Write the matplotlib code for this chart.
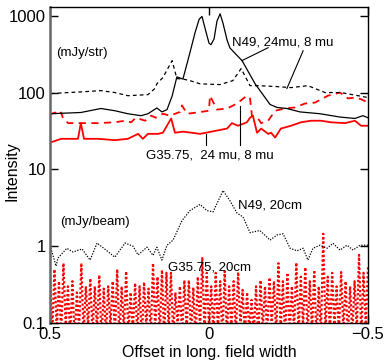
import numpy as np
import matplotlib
matplotlib.use("Agg")
import matplotlib.pyplot as plt

plt.rcParams['font.family'] = ['Liberation Sans', 'DejaVu Sans']

# N49, 24 mu (solid black)
n49_24_off = [0.500, 0.403, 0.340, 0.296, 0.255, 0.214, 0.192, 0.164, 0.148, 0.132, 0.116, 0.101,
              0.082, 0.060, 0.044, 0.031, 0.022, 0.013, 0.0, -0.006, -0.016, -0.025, -0.035,
              -0.044, -0.057, -0.066, -0.104, -0.145, -0.192, -0.214, -0.245, -0.286, -0.349,
              -0.412, -0.459, -0.484, -0.500]
n49_24_val = [53, 55, 62, 58, 53, 50, 53, 63, 56, 60, 90, 160,
              150, 330, 600, 900, 980, 700, 440, 420, 500, 850, 1060,
              800, 480, 380, 260, 130, 70, 64, 62, 56, 53,
              48, 46, 50, 47]

# N49, 8 mu (dashed black)
n49_8_off = [0.497, 0.443, 0.403, 0.340, 0.296, 0.255, 0.192, 0.170, 0.164, 0.145, 0.116, 0.101,
             0.082, 0.060, 0.028, -0.035, -0.075, -0.101, -0.113, -0.129, -0.154, -0.208,
             -0.258, -0.311, -0.365, -0.415, -0.469, -0.500]
n49_8_val = [97, 100, 102, 106, 100, 91, 94, 113, 130, 157, 260, 152,
             150, 143, 130, 127, 143, 205, 165, 123, 123, 120,
             116, 123, 100, 100, 91, 86]

# G35.75, 24 mu (solid red)
g35_24_off = [0.497, 0.465, 0.412, 0.403, 0.393, 0.349, 0.296, 0.255, 0.223, 0.208, 0.192,
              0.160, 0.145, 0.119, 0.107, 0.082, 0.028, -0.025, -0.057, -0.072, -0.091,
              -0.119, -0.129, -0.138, -0.151, -0.164, -0.186, -0.195, -0.208, -0.226,
              -0.258, -0.289, -0.321, -0.352, -0.384, -0.428, -0.459, -0.478, -0.500]
g35_24_val = [22.5, 25, 25, 40, 25, 25, 24, 25, 29, 25, 29,
              29, 30, 46, 30, 31, 29, 32, 34, 40, 37,
              41, 47, 50, 30, 34, 29, 30, 26, 34,
              37, 41, 43, 43, 41, 40, 43, 37, 37]

# G35.75, 8 mu (dashed red)
g35_8_off = [0.500, 0.484, 0.475, 0.465, 0.459, 0.443, 0.403, 0.349, 0.296, 0.264, 0.245,
             0.230, 0.201, 0.182, 0.167, 0.145, 0.123, 0.091, 0.085, 0.069, 0.038, 0.0,
             -0.003, -0.025, -0.057, -0.088, -0.119, -0.129, -0.135, -0.154, -0.164,
             -0.186, -0.208, -0.239, -0.270, -0.302, -0.333, -0.374, -0.412, -0.437,
             -0.459, -0.478, -0.500]
g35_8_val = [52, 55, 50, 55, 46, 40, 40, 40, 41, 43, 41,
             47, 43, 50, 47, 53, 50, 56, 68, 53, 55, 58,
             91, 60, 62, 72, 91, 84, 50, 46, 40,
             43, 58, 62, 64, 72, 74, 91, 100, 84,
             86, 82, 74]

# N49, 20 cm (dotted black)
n49_20_off = [0.500, 0.481, 0.475, 0.447, 0.428, 0.399, 0.374, 0.352, 0.321, 0.296, 0.264,
              0.239, 0.223, 0.195, 0.176, 0.164, 0.148, 0.132, 0.113, 0.085, 0.060, 0.028,
              0.006, -0.013, -0.044, -0.066, -0.088, -0.107, -0.129, -0.160, -0.192,
              -0.214, -0.233, -0.255, -0.277, -0.296, -0.311, -0.327, -0.349, -0.371,
              -0.390, -0.412, -0.434, -0.453, -0.475, -0.500]
n49_20_val = [1.03, 0.55, 0.70, 0.94, 0.84, 0.92, 0.66, 1.1, 0.87, 0.72, 1.1,
              1.0, 0.77, 0.97, 0.76, 0.97, 0.66, 1.03, 1.2, 2.15, 2.9, 3.5,
              2.9, 2.8, 5.3, 3.9, 2.7, 2.4, 1.5, 1.6, 1.2,
              1.4, 1.45, 0.94, 0.87, 0.94, 0.66, 0.94, 1.03, 0.94,
              1.09, 0.89, 1.03, 0.89, 1.03, 1.03]

# G35.75, 20 cm (dotted red): alternating peaks and troughs
g35_20_val = [0.40, 0.07, 0.50, 0.08, 0.35, 0.07, 0.60, 0.09, 0.30, 0.07, 0.35, 0.06,
              0.25, 0.08, 0.60, 0.07, 0.30, 0.09, 0.38, 0.07, 0.30, 0.08, 0.42, 0.06,
              0.28, 0.07, 0.30, 0.09, 0.35, 0.07, 0.50, 0.06, 0.30, 0.08, 0.47, 0.07,
              0.25, 0.08, 0.33, 0.07, 0.30, 0.06, 0.34, 0.09, 0.28, 0.07, 0.60, 0.08,
              0.40, 0.07, 0.49, 0.06, 0.45, 0.08, 0.45, 0.07, 0.25, 0.09, 0.30, 0.07,
              0.36, 0.08, 0.36, 0.07, 0.29, 0.06, 0.40, 0.08, 0.70, 0.07, 0.45, 0.09,
              0.30, 0.07, 0.45, 0.08, 0.35, 0.06, 0.47, 0.07, 0.30, 0.08, 0.35, 0.07,
              0.46, 0.09, 0.27, 0.07, 0.25, 0.08, 0.20, 0.07, 0.30, 0.06, 0.36, 0.08,
              0.30, 0.07, 0.39, 0.09, 0.35, 0.07, 0.60, 0.08, 0.35, 0.06, 0.45, 0.07,
              0.30, 0.08, 0.61, 0.07, 0.40, 0.09, 0.53, 0.07, 0.35, 0.08, 0.49, 0.06,
              0.30, 0.07, 1.45, 0.08, 0.40, 0.07, 0.45, 0.09, 0.30, 0.07, 0.46, 0.08,
              0.35, 0.06, 0.30, 0.07, 0.35, 0.08, 0.77, 0.07, 0.45, 0.09, 0.53]
g35_20_off = np.linspace(0.5, -0.5, len(g35_20_val))

y_ticks = [0.1, 1, 10, 100, 1000]
y_tick_labels = ["0.1", "1", "10", "100", "1000"]
x_ticks = [0.5, 0, -0.5]
x_tick_labels = ["0.5", "0", "\u22120.5"]

fig = plt.figure(figsize=(3.84, 3.62), dpi=100)
ax = fig.add_axes([50/384, 1 - 323/362, 318/384, 316/362])

ax.plot(g35_20_off, g35_20_val, color='red', lw=1.6, linestyle=(0, (1, 1)))
ax.plot(n49_20_off, n49_20_val, color='black', lw=0.9, linestyle=(0, (1, 1.2)))
ax.plot(g35_24_off, g35_24_val, color='red', lw=1.3)
ax.plot(g35_8_off, g35_8_val, color='red', lw=1.3, linestyle=(0, (4, 3)))
ax.plot(n49_8_off, n49_8_val, color='black', lw=0.9, linestyle=(0, (3, 2.5)))
ax.plot(n49_24_off, n49_24_val, color='black', lw=0.9)

ax.set_yscale('log')
ax.set_ylim(0.1, 1300)
ax.set_xlim(0.5, -0.5)
ax.set_yticks(y_ticks)
ax.set_yticklabels(y_tick_labels, fontsize=12)
ax.set_xticks(x_ticks)
ax.set_xticklabels(x_tick_labels, fontsize=12)
ax.minorticks_off()
ax.tick_params(axis='both', direction='in', length=6, width=1, right=True, top=True, pad=3)
for s in ['top', 'right', 'bottom']:
    ax.spines[s].set_linewidth(1)
ax.spines['left'].set_color('#666666')
ax.spines['left'].set_linewidth(1.8)

ax.set_ylabel('Intensity', fontsize=11.5)
ax.yaxis.set_label_coords(-0.095, 0.48)
ax.set_xlabel('Offset in long. field width', fontsize=11.5, labelpad=2)

fs = 9.5
ax.text(0.481, 330, '(mJy/str)', fontsize=fs, va='center', ha='left')
ax.text(-0.072, 445, 'N49, 24mu, 8 mu', fontsize=fs, va='center', ha='left')
ax.plot([-0.186, -0.104], [384, 261], color='black', lw=0.8)
ax.plot([-0.296, -0.245], [350, 113], color='black', lw=0.8)
ax.text(0.198, 15.2, 'G35.75,  24 mu, 8 mu', fontsize=fs, va='center', ha='left')
ax.plot([0.009, 0.009], [20.5, 29], color='black', lw=0.8)
ax.plot([-0.097, -0.097], [20.5, 66], color='black', lw=0.8)
ax.text(0.469, 2.05, '(mJy/beam)', fontsize=fs, va='center', ha='left')
ax.text(-0.091, 3.4, 'N49, 20cm', fontsize=fs, va='center', ha='left')
ax.text(0.129, 0.53, 'G35.75, 20cm', fontsize=fs, va='center', ha='left')

fig.savefig('out.png', dpi=100)
